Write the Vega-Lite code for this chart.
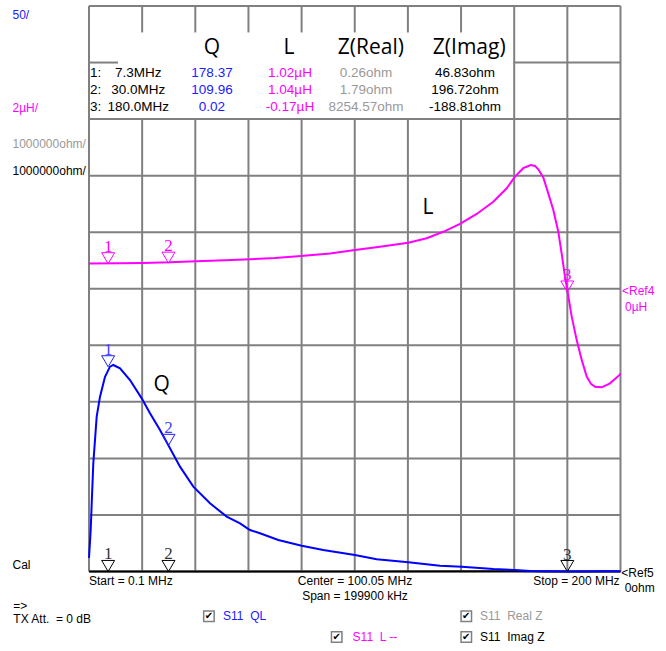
{
  "$schema": "https://vega.github.io/schema/vega-lite/v6.json",
  "width": 666,
  "height": 651,
  "autosize": {"type": "fit", "contains": "padding"},
  "padding": 0,
  "background": "white",
  "view": {"stroke": null},
  "config": {"text": {"font": "Liberation Sans"}},
  "datasets": {
    "grid": [
      {"f": 0.1, "f2": 0.1, "q": 0, "q2": 500},
      {"f": 20.09, "f2": 20.09, "q": 0, "q2": 400}, {"f": 20.09, "f2": 20.09, "q": 476.6, "q2": 500},
      {"f": 40.08, "f2": 40.08, "q": 0, "q2": 400}, {"f": 40.08, "f2": 40.08, "q": 476.6, "q2": 500},
      {"f": 60.07, "f2": 60.07, "q": 0, "q2": 400}, {"f": 60.07, "f2": 60.07, "q": 476.6, "q2": 500},
      {"f": 80.06, "f2": 80.06, "q": 0, "q2": 400}, {"f": 80.06, "f2": 80.06, "q": 476.6, "q2": 500},
      {"f": 100.05, "f2": 100.05, "q": 0, "q2": 400}, {"f": 100.05, "f2": 100.05, "q": 476.6, "q2": 500},
      {"f": 120.04, "f2": 120.04, "q": 0, "q2": 400}, {"f": 120.04, "f2": 120.04, "q": 476.6, "q2": 500},
      {"f": 140.03, "f2": 140.03, "q": 0, "q2": 400}, {"f": 140.03, "f2": 140.03, "q": 476.6, "q2": 500},
      {"f": 160.02, "f2": 160.02, "q": 0, "q2": 500},
      {"f": 180.01, "f2": 180.01, "q": 0, "q2": 500},
      {"f": 200, "f2": 200, "q": 0, "q2": 500},
      {"f": 0.1, "f2": 200, "q": 0, "q2": 0},
      {"f": 0.1, "f2": 200, "q": 50, "q2": 50},
      {"f": 0.1, "f2": 200, "q": 100, "q2": 100},
      {"f": 0.1, "f2": 200, "q": 150, "q2": 150},
      {"f": 0.1, "f2": 200, "q": 200, "q2": 200},
      {"f": 0.1, "f2": 200, "q": 250, "q2": 250},
      {"f": 0.1, "f2": 200, "q": 300, "q2": 300},
      {"f": 0.1, "f2": 200, "q": 350, "q2": 350},
      {"f": 0.1, "f2": 200, "q": 400, "q2": 400},
      {"f": 0.1, "f2": 11.0, "q": 450, "q2": 450},
      {"f": 160.02, "f2": 200, "q": 450, "q2": 450},
      {"f": 0.1, "f2": 200, "q": 500, "q2": 500}
    ],
    "qt": [
      {"f": 0.1, "q": 12}, {"f": 0.74, "q": 36.7}, {"f": 1.12, "q": 60.3}, {"f": 1.72, "q": 95.7},
      {"f": 2.99, "q": 136.9}, {"f": 4.24, "q": 154.6}, {"f": 6.12, "q": 172.2}, {"f": 8.0, "q": 181.1},
      {"f": 9.24, "q": 182.6}, {"f": 11.76, "q": 179.7}, {"f": 15.52, "q": 169.3}, {"f": 19.92, "q": 153.1},
      {"f": 23.04, "q": 139.9}, {"f": 26.8, "q": 125.1}, {"f": 30.56, "q": 108.9}, {"f": 34.33, "q": 92.7},
      {"f": 39.33, "q": 75.0}, {"f": 45.61, "q": 60.3}, {"f": 51.89, "q": 48.5}, {"f": 56.9, "q": 42.6},
      {"f": 60.65, "q": 36.7}, {"f": 64.4, "q": 33.8}, {"f": 71.3, "q": 27.9}, {"f": 80.1, "q": 22.8},
      {"f": 88.2, "q": 19.0}, {"f": 100.1, "q": 14.6}, {"f": 108.3, "q": 10.8}, {"f": 120.2, "q": 8.1},
      {"f": 132.1, "q": 5.1}, {"f": 140.3, "q": 4.2}, {"f": 152.2, "q": 2.2}, {"f": 160.3, "q": 1.3},
      {"f": 166.0, "q": 0.4}, {"f": 172.0, "q": 0.2}, {"f": 180.0, "q": 0.02}, {"f": 186.0, "q": 0.1},
      {"f": 192.0, "q": 0.3}, {"f": 200.0, "q": 0.3}
    ],
    "lt": [
      {"f": 0.1, "l": 1.03}, {"f": 11.76, "l": 1.04}, {"f": 20.41, "l": 1.05}, {"f": 30.56, "l": 1.07},
      {"f": 40.34, "l": 1.11}, {"f": 51.25, "l": 1.14}, {"f": 60.65, "l": 1.18}, {"f": 70.05, "l": 1.22},
      {"f": 79.83, "l": 1.29}, {"f": 90.74, "l": 1.38}, {"f": 100.15, "l": 1.51}, {"f": 109.55, "l": 1.62},
      {"f": 120.19, "l": 1.76}, {"f": 127.11, "l": 1.92}, {"f": 133.35, "l": 2.15}, {"f": 139.63, "l": 2.43},
      {"f": 145.92, "l": 2.78}, {"f": 152.16, "l": 3.21}, {"f": 157.2, "l": 3.69}, {"f": 160.32, "l": 4.10},
      {"f": 163.44, "l": 4.40}, {"f": 166.22, "l": 4.51}, {"f": 167.84, "l": 4.48}, {"f": 169.08, "l": 4.36},
      {"f": 170.96, "l": 4.07}, {"f": 172.84, "l": 3.51}, {"f": 174.73, "l": 2.92}, {"f": 176.61, "l": 2.15},
      {"f": 177.89, "l": 1.37}, {"f": 179.13, "l": 0.56}, {"f": 179.99, "l": 0.09}, {"f": 181.65, "l": -0.85},
      {"f": 183.53, "l": -1.68}, {"f": 185.41, "l": -2.38}, {"f": 187.29, "l": -2.97}, {"f": 188.9, "l": -3.23},
      {"f": 190.41, "l": -3.33}, {"f": 192.93, "l": -3.35}, {"f": 196.05, "l": -3.21}, {"f": 199.55, "l": -2.92},
      {"f": 200.0, "l": -2.86}
    ],
    "zr": [
      {"f": 0.1, "z": 0}, {"f": 7.3, "z": 0.26}, {"f": 30, "z": 1.79}, {"f": 100, "z": 150},
      {"f": 150, "z": 1500}, {"f": 180, "z": 8254.57}, {"f": 200, "z": 3000}
    ],
    "zi": [
      {"f": 0.1, "z": 0.5}, {"f": 7.3, "z": 46.83}, {"f": 30, "z": 196.72}, {"f": 100, "z": 900},
      {"f": 160, "z": 3500}, {"f": 172, "z": -500}, {"f": 180, "z": -188.81}, {"f": 200, "z": -300}
    ],
    "qm": [{"f": 7.3, "q": 181, "n": "1"}, {"f": 30, "q": 111.5, "n": "2"}],
    "lm": [{"f": 7.3, "l": 1.02, "n": "1"}, {"f": 30, "l": 1.04, "n": "2"}, {"f": 180, "l": 0.02, "n": "3"}],
    "zm": [{"f": 7.3, "z": 46.83, "n": "1"}, {"f": 30, "z": 196.72, "n": "2"}, {"f": 180, "z": -188.81, "n": "3"}],
    "lab": [
      {"f": -28.672, "q": 492.04, "t": "50/", "s": "Q"},
      {"f": -28.672, "q": 409.81, "t": "2µH/", "s": "L"},
      {"f": -28.672, "q": 377.72, "t": "1000000ohm/", "s": "Real Z"},
      {"f": -28.672, "q": 354.11, "t": "1000000ohm/", "s": "Imag Z"},
      {"f": -28.672, "q": 5.75, "t": "Cal", "s": "axis"},
      {"f": -28.37, "q": -30.5, "t": "=>", "s": "axis"},
      {"f": -28.37, "q": -42.0, "t": "TX Att.\u00a0\u00a0= 0 dB", "s": "axis"},
      {"f": 0.1, "q": -8.84, "t": "Start = 0.1 MHz", "s": "axis"},
      {"f": 200.3, "q": -1.33, "t": "<Ref5", "s": "axis"},
      {"f": 201.58, "q": -14.59, "t": "0ohm", "s": "axis"},
      {"f": 200.55, "q": 247.57, "t": "<Ref4", "s": "L"},
      {"f": 201.7, "q": 234.0, "t": "0µH", "s": "L"},
      {"f": 50.5, "q": -39.52, "t": "S11\u00a0\u00a0QL", "s": "Q"},
      {"f": 99.24, "q": -57.91, "t": "S11\u00a0\u00a0L --", "s": "L"},
      {"f": 147.16, "q": -39.52, "t": "S11\u00a0\u00a0Real Z", "s": "Real Z"},
      {"f": 147.16, "q": -57.91, "t": "S11\u00a0\u00a0Imag Z", "s": "Imag Z"}
    ],
    "ctr": [
      {"f": 100.146, "q": -8.84, "t": "Center = 100.05 MHz"},
      {"f": 100.146, "q": -21.66, "t": "Span = 199900 kHz"}
    ],
    "rgt": [{"f": 199.67, "q": -8.84, "t": "Stop = 200 MHz"}],
    "cb": [
      {"f": 45.2, "q": -39.52}, {"f": 142.0, "q": -39.52},
      {"f": 93.26, "q": -57.91}, {"f": 142.0, "q": -57.91}
    ],
    "tbn": [
      {"f": 0.476, "q": 441.03, "t": "1:"},
      {"f": 0.476, "q": 425.55, "t": "2:"},
      {"f": 0.476, "q": 410.26, "t": "3:"}
    ],
    "tbc": [
      {"f": 18.64, "q": 441.03, "t": "7.3MHz", "s": "axis"},
      {"f": 18.64, "q": 425.55, "t": "30.0MHz", "s": "axis"},
      {"f": 18.64, "q": 410.26, "t": "180.0MHz", "s": "axis"},
      {"f": 46.36, "q": 441.03, "t": "178.37", "s": "Q"},
      {"f": 46.36, "q": 425.55, "t": "109.96", "s": "Q"},
      {"f": 46.36, "q": 410.26, "t": "0.02", "s": "Q"},
      {"f": 75.7, "q": 441.03, "t": "1.02µH", "s": "L"},
      {"f": 75.7, "q": 425.55, "t": "1.04µH", "s": "L"},
      {"f": 75.7, "q": 410.26, "t": "-0.17µH", "s": "L"},
      {"f": 104.28, "q": 441.03, "t": "0.26ohm", "s": "Real Z"},
      {"f": 104.28, "q": 425.55, "t": "1.79ohm", "s": "Real Z"},
      {"f": 104.28, "q": 410.26, "t": "8254.57ohm", "s": "Real Z"},
      {"f": 141.52, "q": 441.03, "t": "46.83ohm", "s": "Imag Z"},
      {"f": 141.52, "q": 425.55, "t": "196.72ohm", "s": "Imag Z"},
      {"f": 141.52, "q": 410.26, "t": "-188.81ohm", "s": "Imag Z"}
    ],
    "hdr": [
      {"f": 46.36, "q": 463.04, "t": "Q"},
      {"f": 75.32, "q": 463.04, "t": "L"},
      {"f": 106.09, "q": 463.04, "t": "Z(Real)"},
      {"f": 143.1, "q": 463.04, "t": "Z(Imag)"},
      {"f": 27.44, "q": 164.9, "t": "Q"},
      {"f": 127.6, "q": 321.4, "t": "L"}
    ]
  },
  "resolve": {"scale": {"y": "independent"}},
  "layer": [
    {
      "data": {"name": "grid"},
      "mark": {"type": "rule", "color": "#808080", "strokeWidth": 2},
      "encoding": {
        "x": {"field": "f", "type": "quantitative", "scale": {"domain": [-33.374, 217.115], "nice": false, "zero": false}, "axis": null},
        "x2": {"field": "f2"},
        "y": {"field": "q", "type": "quantitative", "scale": {"domain": [-70.29, 505.3], "nice": false, "zero": false}, "axis": null},
        "y2": {"field": "q2"}
      }
    },
    {
      "data": {"name": "zr"},
      "mark": {"type": "line", "color": "#a0a0a0", "strokeWidth": 2},
      "encoding": {
        "x": {"field": "f", "type": "quantitative", "scale": {"domain": [-33.374, 217.115], "nice": false, "zero": false}, "axis": null},
        "y": {"field": "z", "type": "quantitative", "scale": {"domain": [-1405838, 10106120], "nice": false, "zero": false}, "axis": null}
      }
    },
    {
      "data": {"name": "zi"},
      "mark": {"type": "line", "color": "#000000", "strokeWidth": 2},
      "encoding": {
        "x": {"field": "f", "type": "quantitative", "scale": {"domain": [-33.374, 217.115], "nice": false, "zero": false}, "axis": null},
        "y": {"field": "z", "type": "quantitative", "scale": {"domain": [-1405838, 10106120], "nice": false, "zero": false}, "axis": null}
      }
    },
    {
      "data": {"name": "lt"},
      "mark": {"type": "line", "color": "#ff00ff", "strokeWidth": 2},
      "encoding": {
        "x": {"field": "f", "type": "quantitative", "scale": {"domain": [-33.374, 217.115], "nice": false, "zero": false}, "axis": null},
        "y": {"field": "l", "type": "quantitative", "scale": {"domain": [-12.676, 10.348], "nice": false, "zero": false}, "axis": null}
      }
    },
    {
      "data": {"name": "qt"},
      "mark": {"type": "line", "color": "#0000ff", "strokeWidth": 2},
      "encoding": {
        "x": {"field": "f", "type": "quantitative", "scale": {"domain": [-33.374, 217.115], "nice": false, "zero": false}, "axis": null},
        "y": {"field": "q", "type": "quantitative", "scale": {"domain": [-70.29, 505.3], "nice": false, "zero": false}, "axis": null}
      }
    },
    {
      "data": {"name": "zm"},
      "mark": {"type": "point", "shape": "M-1,-1.7L1,-1.7L0,0Z", "size": 169, "filled": false, "color": "#000000", "strokeWidth": 1, "opacity": 1},
      "encoding": {
        "x": {"field": "f", "type": "quantitative", "scale": {"domain": [-33.374, 217.115], "nice": false, "zero": false}, "axis": null},
        "y": {"field": "z", "type": "quantitative", "scale": {"domain": [-1405838, 10106120], "nice": false, "zero": false}, "axis": null}
      }
    },
    {
      "data": {"name": "zm"},
      "mark": {"type": "text", "font": "Liberation Serif", "fontSize": 17, "color": "#333333", "dy": -12, "baseline": "alphabetic", "align": "center"},
      "encoding": {
        "x": {"field": "f", "type": "quantitative", "scale": {"domain": [-33.374, 217.115], "nice": false, "zero": false}, "axis": null},
        "y": {"field": "z", "type": "quantitative", "scale": {"domain": [-1405838, 10106120], "nice": false, "zero": false}, "axis": null},
        "text": {"field": "n"}
      }
    },
    {
      "data": {"name": "lm"},
      "mark": {"type": "point", "shape": "M-1,-1.7L1,-1.7L0,0Z", "size": 169, "filled": false, "color": "#ff00ff", "strokeWidth": 1, "opacity": 1},
      "encoding": {
        "x": {"field": "f", "type": "quantitative", "scale": {"domain": [-33.374, 217.115], "nice": false, "zero": false}, "axis": null},
        "y": {"field": "l", "type": "quantitative", "scale": {"domain": [-12.676, 10.348], "nice": false, "zero": false}, "axis": null}
      }
    },
    {
      "data": {"name": "lm"},
      "mark": {"type": "text", "font": "Liberation Serif", "fontSize": 17, "color": "#ff00ff", "dy": -12, "baseline": "alphabetic", "align": "center"},
      "encoding": {
        "x": {"field": "f", "type": "quantitative", "scale": {"domain": [-33.374, 217.115], "nice": false, "zero": false}, "axis": null},
        "y": {"field": "l", "type": "quantitative", "scale": {"domain": [-12.676, 10.348], "nice": false, "zero": false}, "axis": null},
        "text": {"field": "n"}
      }
    },
    {
      "data": {"name": "qm"},
      "mark": {"type": "point", "shape": "M-1,-1.7L1,-1.7L0,0Z", "size": 169, "filled": false, "color": "#2020ff", "strokeWidth": 1, "opacity": 1},
      "encoding": {
        "x": {"field": "f", "type": "quantitative", "scale": {"domain": [-33.374, 217.115], "nice": false, "zero": false}, "axis": null},
        "y": {"field": "q", "type": "quantitative", "scale": {"domain": [-70.29, 505.3], "nice": false, "zero": false}, "axis": null}
      }
    },
    {
      "data": {"name": "qm"},
      "mark": {"type": "text", "font": "Liberation Serif", "fontSize": 17, "color": "#4040ff", "dy": -12, "baseline": "alphabetic", "align": "center"},
      "encoding": {
        "x": {"field": "f", "type": "quantitative", "scale": {"domain": [-33.374, 217.115], "nice": false, "zero": false}, "axis": null},
        "y": {"field": "q", "type": "quantitative", "scale": {"domain": [-70.29, 505.3], "nice": false, "zero": false}, "axis": null},
        "text": {"field": "n"}
      }
    },
    {
      "data": {"name": "lab"},
      "mark": {"type": "text", "fontSize": 12, "align": "left", "baseline": "middle"},
      "encoding": {
        "x": {"field": "f", "type": "quantitative", "scale": {"domain": [-33.374, 217.115], "nice": false, "zero": false}, "axis": null},
        "y": {"field": "q", "type": "quantitative", "scale": {"domain": [-70.29, 505.3], "nice": false, "zero": false}, "axis": null},
        "text": {"field": "t"},
        "color": {"field": "s", "type": "nominal", "scale": {"domain": ["Q", "L", "Real Z", "Imag Z", "axis"], "range": ["#2020ff", "#ff00ff", "#999999", "#000000", "#000000"]}, "legend": null}
      }
    },
    {
      "data": {"name": "ctr"},
      "mark": {"type": "text", "fontSize": 12, "align": "center", "baseline": "middle", "color": "#000000"},
      "encoding": {
        "x": {"field": "f", "type": "quantitative", "scale": {"domain": [-33.374, 217.115], "nice": false, "zero": false}, "axis": null},
        "y": {"field": "q", "type": "quantitative", "scale": {"domain": [-70.29, 505.3], "nice": false, "zero": false}, "axis": null},
        "text": {"field": "t"}
      }
    },
    {
      "data": {"name": "rgt"},
      "mark": {"type": "text", "fontSize": 12, "align": "right", "baseline": "middle", "color": "#000000"},
      "encoding": {
        "x": {"field": "f", "type": "quantitative", "scale": {"domain": [-33.374, 217.115], "nice": false, "zero": false}, "axis": null},
        "y": {"field": "q", "type": "quantitative", "scale": {"domain": [-70.29, 505.3], "nice": false, "zero": false}, "axis": null},
        "text": {"field": "t"}
      }
    },
    {
      "data": {"name": "cb"},
      "mark": {"type": "point", "shape": "square", "size": 110, "filled": false, "color": "#808080", "strokeWidth": 1.5, "opacity": 1},
      "encoding": {
        "x": {"field": "f", "type": "quantitative", "scale": {"domain": [-33.374, 217.115], "nice": false, "zero": false}, "axis": null},
        "y": {"field": "q", "type": "quantitative", "scale": {"domain": [-70.29, 505.3], "nice": false, "zero": false}, "axis": null}
      }
    },
    {
      "data": {"name": "cb"},
      "mark": {"type": "text", "font": "DejaVu Sans", "fontSize": 10, "align": "center", "baseline": "middle", "color": "#000000", "text": "✔"},
      "encoding": {
        "x": {"field": "f", "type": "quantitative", "scale": {"domain": [-33.374, 217.115], "nice": false, "zero": false}, "axis": null},
        "y": {"field": "q", "type": "quantitative", "scale": {"domain": [-70.29, 505.3], "nice": false, "zero": false}, "axis": null}
      }
    },
    {
      "data": {"name": "tbn"},
      "mark": {"type": "text", "fontSize": 13.5, "align": "left", "baseline": "middle", "color": "#000000"},
      "encoding": {
        "x": {"field": "f", "type": "quantitative", "scale": {"domain": [-33.374, 217.115], "nice": false, "zero": false}, "axis": null},
        "y": {"field": "q", "type": "quantitative", "scale": {"domain": [-70.29, 505.3], "nice": false, "zero": false}, "axis": null},
        "text": {"field": "t"}
      }
    },
    {
      "data": {"name": "tbc"},
      "mark": {"type": "text", "fontSize": 13.5, "align": "center", "baseline": "middle"},
      "encoding": {
        "x": {"field": "f", "type": "quantitative", "scale": {"domain": [-33.374, 217.115], "nice": false, "zero": false}, "axis": null},
        "y": {"field": "q", "type": "quantitative", "scale": {"domain": [-70.29, 505.3], "nice": false, "zero": false}, "axis": null},
        "text": {"field": "t"},
        "color": {"field": "s", "type": "nominal", "scale": {"domain": ["Q", "L", "Real Z", "Imag Z", "axis"], "range": ["#2020ff", "#ff00ff", "#999999", "#000000", "#000000"]}, "legend": null}
      }
    },
    {
      "data": {"name": "hdr"},
      "mark": {"type": "text", "font": "Open Sans", "fontSize": 21, "align": "center", "baseline": "middle", "color": "#000000"},
      "encoding": {
        "x": {"field": "f", "type": "quantitative", "scale": {"domain": [-33.374, 217.115], "nice": false, "zero": false}, "axis": null},
        "y": {"field": "q", "type": "quantitative", "scale": {"domain": [-70.29, 505.3], "nice": false, "zero": false}, "axis": null},
        "text": {"field": "t"}
      }
    }
  ]
}
